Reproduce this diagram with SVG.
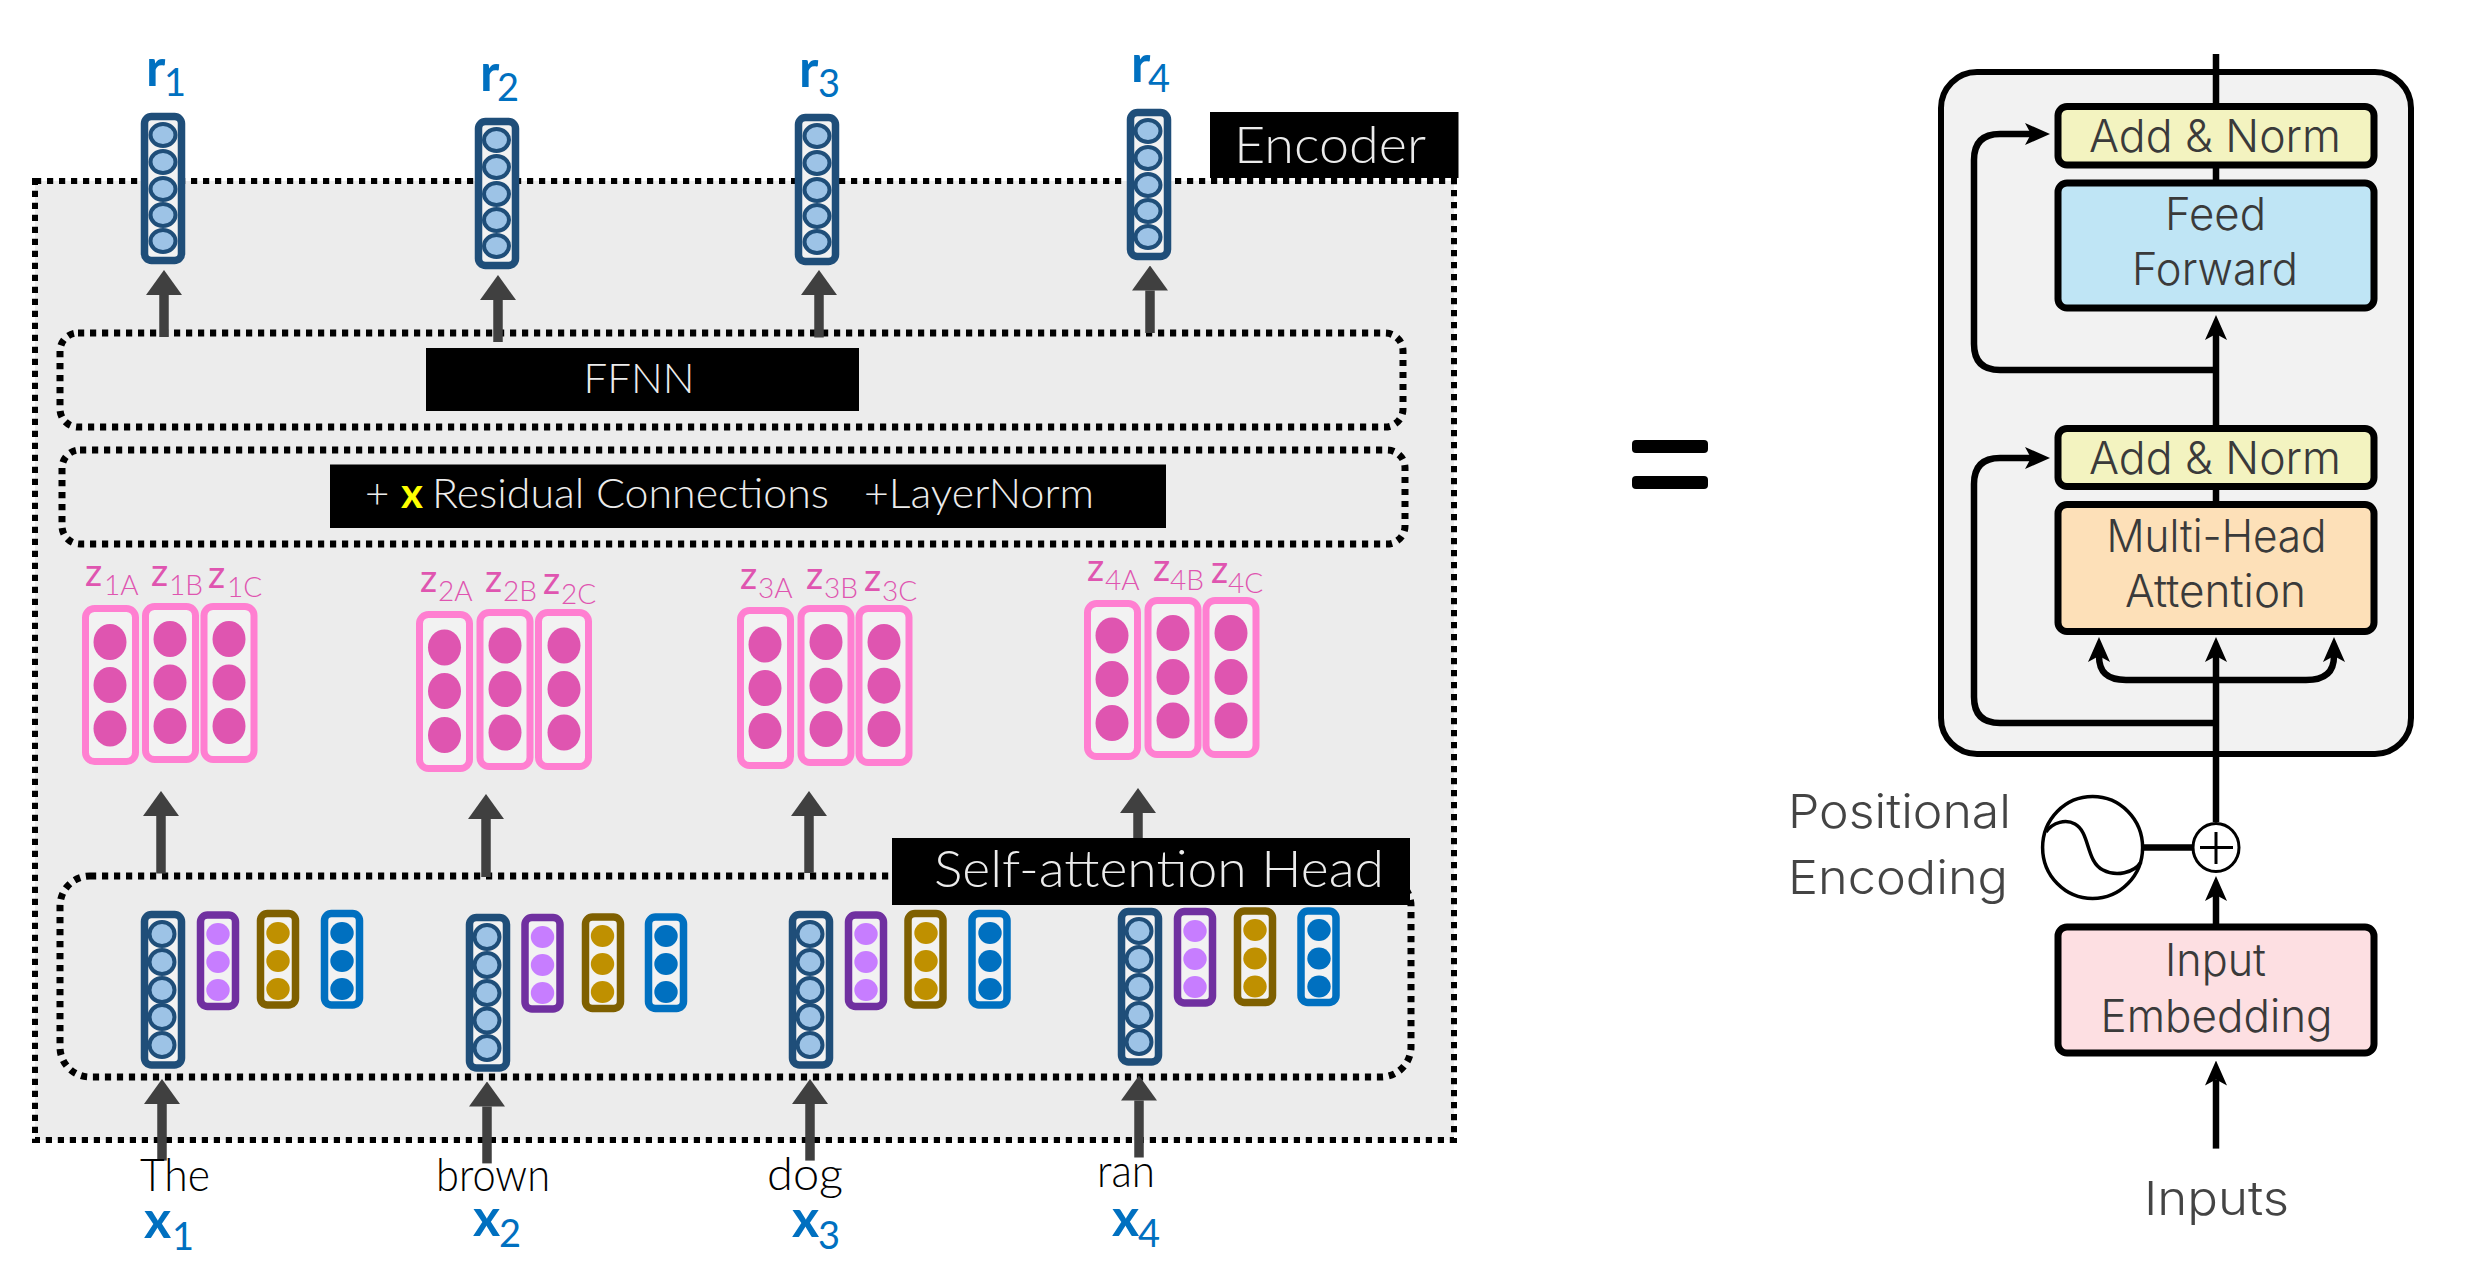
<svg xmlns="http://www.w3.org/2000/svg" width="2486" height="1268" viewBox="0 0 2486 1268">
<style>
text{font-family:"Lato","Open Sans","Liberation Sans",sans-serif;font-weight:300}
.dot{fill:none;stroke:#000;stroke-dasharray:6.2 5.8}
.tag{fill:#000}
.tagt{fill:#ececec;font-size:42px}
.w{fill:#000;font-size:45px}
.b{fill:#0070c0;font-size:52px;font-weight:700}
.s{fill:#0070c0;font-size:38px;font-weight:400}
.z{fill:#df55b0;font-size:38px;font-weight:400}
.zs{fill:#df55b0;font-size:28px;font-weight:300}
.ar{fill:none;stroke:#404040;stroke-width:9.5;marker-end:url(#dark)}
.bk{fill:none;stroke:#000;stroke-width:6.5}
.bka{fill:none;stroke:#000;stroke-width:6.5;marker-end:url(#stealth)}
.v{fill:#f2f2f2;stroke:#1f4e79;stroke-width:7.5}
.vc{fill:#9dc3e6;stroke:#1f4e79;stroke-width:4}
.p{fill:#f2f2f2;stroke:#ff7fd1;stroke-width:7}
.pc{fill:#df55b0}
.k1{fill:#f2f2f2;stroke:#7030a0;stroke-width:7.5}
.c1{fill:#c77dff}
.k2{fill:#f2f2f2;stroke:#7f6000;stroke-width:7.5}
.c2{fill:#bf9000}
.k3{fill:#f2f2f2;stroke:#0070c0;stroke-width:7.5}
.c3{fill:#0070c0}
.blk{stroke:#000;stroke-width:7}
.lt{font-family:"Inter","Liberation Sans",sans-serif;font-weight:300;fill:#3a3a3a;font-size:45px;text-anchor:middle}
.lts{font-family:"Inter","Liberation Sans",sans-serif;font-weight:300;fill:#444;font-size:47px}
</style>
<defs>
<marker id="dark" markerUnits="userSpaceOnUse" markerWidth="25" markerHeight="36" viewBox="0 0 25 36" refX="0" refY="18" orient="auto"><path d="M0 0L25 18L0 36z" fill="#404040"/></marker>
<marker id="stealth" markerUnits="userSpaceOnUse" markerWidth="25" markerHeight="24" viewBox="0 0 25 24" refX="6" refY="12" orient="auto"><path d="M0 1L25 12L0 23L6 12z" fill="#000"/></marker>
</defs>

<g id="containers">
<rect id="encoder-box" x="35" y="181" width="1419" height="959" class="dot" style="fill:#ececec;stroke-width:6"/>
<rect id="ffnn-box" x="60" y="333" width="1343" height="94" rx="18" class="dot" stroke-width="7"/>
<rect id="residual-box" x="62" y="450" width="1343" height="94" rx="18" class="dot" stroke-width="7"/>
<rect id="attention-box" x="60" y="876" width="1351" height="201" rx="30" class="dot" stroke-width="7"/>
<rect id="right-encoder" x="1941" y="72" width="470" height="682" rx="36" fill="#f2f2f2" stroke="#000" stroke-width="6"/>
</g>

<g id="connectors">
<path class="ar" d="M164 337V295"/><path class="ar" d="M498 342V300"/><path class="ar" d="M819 337.500V295"/><path class="ar" d="M1150 333V290.500"/>
<path class="ar" d="M161 873.500V816"/><path class="ar" d="M486 877V819"/><path class="ar" d="M809 873V816"/><path class="ar" d="M1138 840V813"/>
<path class="ar" d="M162 1160.600V1104"/><path class="ar" d="M487 1163.400V1106.500"/><path class="ar" d="M810 1160.600V1104"/><path class="ar" d="M1139 1157.500V1100.500"/>
<path class="bk" d="M2216 54V106M2216 165V183M2216 486V504M2144 847.500H2193"/>
<path class="bka" d="M2216 428V334"/>
<path class="bka" d="M2216 370H2000Q1974 370 1974 344V160Q1974 134 2000 134H2031"/>
<path class="bka" d="M2216 723H2000Q1974 723 1974 697V484Q1974 458 2000 458H2031"/>
<path class="bka" d="M2216 822V656"/>
<path class="bka" d="M2216 680H2126C2107 680 2099 672 2099 656"/>
<path class="bka" d="M2216 680H2306C2325 680 2334 672 2334 656"/>
<path class="bka" d="M2216 926V895"/>
<path class="bka" d="M2216 1148.600V1079.500"/>
</g>

<g id="r1"><rect class="v" x="144.500" y="116.500" width="37" height="144" rx="7"/><ellipse class="vc" cx="163" cy="135" rx="12.500" ry="11"/><ellipse class="vc" cx="163" cy="162" rx="12.500" ry="11"/><ellipse class="vc" cx="163" cy="189" rx="12.500" ry="11"/><ellipse class="vc" cx="163" cy="215" rx="12.500" ry="11"/><ellipse class="vc" cx="163" cy="241" rx="12.500" ry="11"/>
<text><tspan class="b" x="146" y="86">r</tspan><tspan class="s" x="164" y="96">1</tspan></text></g>
<g id="r2"><rect class="v" x="478.500" y="121.500" width="37" height="144" rx="7"/><ellipse class="vc" cx="496.500" cy="140" rx="12.500" ry="11"/><ellipse class="vc" cx="496.500" cy="167" rx="12.500" ry="11"/><ellipse class="vc" cx="496.500" cy="194" rx="12.500" ry="11"/><ellipse class="vc" cx="496.500" cy="220" rx="12.500" ry="11"/><ellipse class="vc" cx="496.500" cy="246" rx="12.500" ry="11"/>
<text><tspan class="b" x="480" y="91">r</tspan><tspan class="s" x="497" y="101">2</tspan></text></g>
<g id="r3"><rect class="v" x="798.500" y="117.500" width="37" height="144" rx="7"/><ellipse class="vc" cx="817" cy="136" rx="12.500" ry="11"/><ellipse class="vc" cx="817" cy="163" rx="12.500" ry="11"/><ellipse class="vc" cx="817" cy="190" rx="12.500" ry="11"/><ellipse class="vc" cx="817" cy="216" rx="12.500" ry="11"/><ellipse class="vc" cx="817" cy="242" rx="12.500" ry="11"/>
<text><tspan class="b" x="799" y="86.500">r</tspan><tspan class="s" x="818" y="97">3</tspan></text></g>
<g id="r4"><rect class="v" x="1130.500" y="112.500" width="37" height="144" rx="7"/><ellipse class="vc" cx="1148" cy="131" rx="12.500" ry="11"/><ellipse class="vc" cx="1148" cy="158" rx="12.500" ry="11"/><ellipse class="vc" cx="1148" cy="185" rx="12.500" ry="11"/><ellipse class="vc" cx="1148" cy="211" rx="12.500" ry="11"/><ellipse class="vc" cx="1148" cy="237" rx="12.500" ry="11"/>
<text><tspan class="b" x="1131" y="82">r</tspan><tspan class="s" x="1148" y="92">4</tspan></text></g>

<g id="encoder-label"><rect class="tag" x="1210" y="112" width="248.500" height="66"/><text class="tagt" x="1234" y="163" style="font-size:52px" textLength="192" lengthAdjust="spacingAndGlyphs">Encoder</text></g>
<g id="ffnn-label"><rect class="tag" x="426" y="348" width="433" height="63"/><text class="tagt" x="639" y="393" text-anchor="middle">FFNN</text></g>
<g id="residual-label"><rect class="tag" x="330" y="464.500" width="836" height="63.500"/><text class="tagt" y="507.500"><tspan x="365">+</tspan><tspan x="401" fill="#ffff00" style="font-weight:700">x</tspan></text><text class="tagt" x="432" y="507.500" textLength="397" lengthAdjust="spacingAndGlyphs">Residual Connections</text><text class="tagt" x="864" y="507.500" textLength="230" lengthAdjust="spacingAndGlyphs">+LayerNorm</text></g>

<g id="z1"><text><tspan class="z" x="85" y="586">z</tspan><tspan class="zs" x="104" y="595">1A</tspan></text><text><tspan class="z" x="151" y="586">z</tspan><tspan class="zs" x="169" y="595">1B</tspan></text><text><tspan class="z" x="208" y="588">z</tspan><tspan class="zs" x="227" y="597">1C</tspan></text>
<rect class="p" x="85.500" y="608.500" width="50" height="153" rx="9"/><rect class="p" x="145.500" y="606.500" width="50" height="153" rx="9"/><rect class="p" x="204" y="606.500" width="50" height="153" rx="9"/>
<ellipse class="pc" cx="110" cy="642" rx="16.500" ry="18"/><ellipse class="pc" cx="110" cy="685" rx="16.500" ry="18"/><ellipse class="pc" cx="110" cy="728.500" rx="16.500" ry="18"/>
<ellipse class="pc" cx="170" cy="639" rx="16.500" ry="18"/><ellipse class="pc" cx="170" cy="682.500" rx="16.500" ry="18"/><ellipse class="pc" cx="170" cy="726" rx="16.500" ry="18"/>
<ellipse class="pc" cx="229" cy="639" rx="16.500" ry="18"/><ellipse class="pc" cx="229" cy="682.500" rx="16.500" ry="18"/><ellipse class="pc" cx="229" cy="726" rx="16.500" ry="18"/></g>
<g id="z2"><text><tspan class="z" x="420" y="592">z</tspan><tspan class="zs" x="438" y="601">2A</tspan></text><text><tspan class="z" x="485" y="592">z</tspan><tspan class="zs" x="503" y="601">2B</tspan></text><text><tspan class="z" x="543" y="594">z</tspan><tspan class="zs" x="561" y="604">2C</tspan></text>
<rect class="p" x="419.500" y="614.500" width="50" height="154" rx="9"/><rect class="p" x="480" y="612.500" width="50" height="154" rx="9"/><rect class="p" x="538.500" y="612.500" width="50" height="154" rx="9"/>
<ellipse class="pc" cx="444.500" cy="647.500" rx="16.500" ry="18"/><ellipse class="pc" cx="444.500" cy="691" rx="16.500" ry="18"/><ellipse class="pc" cx="444.500" cy="735" rx="16.500" ry="18"/>
<ellipse class="pc" cx="505" cy="645.500" rx="16.500" ry="18"/><ellipse class="pc" cx="505" cy="689" rx="16.500" ry="18"/><ellipse class="pc" cx="505" cy="732.500" rx="16.500" ry="18"/>
<ellipse class="pc" cx="564" cy="645.500" rx="16.500" ry="18"/><ellipse class="pc" cx="564" cy="689" rx="16.500" ry="18"/><ellipse class="pc" cx="564" cy="732.500" rx="16.500" ry="18"/></g>
<g id="z3"><text><tspan class="z" x="740" y="589">z</tspan><tspan class="zs" x="758" y="598">3A</tspan></text><text><tspan class="z" x="806" y="589">z</tspan><tspan class="zs" x="824" y="598">3B</tspan></text><text><tspan class="z" x="864" y="591">z</tspan><tspan class="zs" x="882" y="601">3C</tspan></text>
<rect class="p" x="740.500" y="610.500" width="50" height="155" rx="9"/><rect class="p" x="801" y="608.500" width="50" height="154" rx="9"/><rect class="p" x="859" y="608.500" width="50" height="154" rx="9"/>
<ellipse class="pc" cx="765" cy="644.500" rx="16.500" ry="18"/><ellipse class="pc" cx="765" cy="688" rx="16.500" ry="18"/><ellipse class="pc" cx="765" cy="731" rx="16.500" ry="18"/>
<ellipse class="pc" cx="826" cy="642" rx="16.500" ry="18"/><ellipse class="pc" cx="826" cy="685.700" rx="16.500" ry="18"/><ellipse class="pc" cx="826" cy="729" rx="16.500" ry="18"/>
<ellipse class="pc" cx="884" cy="642" rx="16.500" ry="18"/><ellipse class="pc" cx="884" cy="685.700" rx="16.500" ry="18"/><ellipse class="pc" cx="884" cy="729" rx="16.500" ry="18"/></g>
<g id="z4"><text><tspan class="z" x="1087" y="581">z</tspan><tspan class="zs" x="1105" y="590">4A</tspan></text><text><tspan class="z" x="1153" y="581">z</tspan><tspan class="zs" x="1170" y="590">4B</tspan></text><text><tspan class="z" x="1211" y="583">z</tspan><tspan class="zs" x="1228" y="593">4C</tspan></text>
<rect class="p" x="1087.500" y="603.500" width="50" height="153" rx="9"/><rect class="p" x="1148" y="600.500" width="50" height="154" rx="9"/><rect class="p" x="1206" y="600.500" width="50" height="154" rx="9"/>
<ellipse class="pc" cx="1112" cy="635.500" rx="16.500" ry="18"/><ellipse class="pc" cx="1112" cy="679" rx="16.500" ry="18"/><ellipse class="pc" cx="1112" cy="723" rx="16.500" ry="18"/>
<ellipse class="pc" cx="1173" cy="633" rx="16.500" ry="18"/><ellipse class="pc" cx="1173" cy="677" rx="16.500" ry="18"/><ellipse class="pc" cx="1173" cy="720.500" rx="16.500" ry="18"/>
<ellipse class="pc" cx="1231" cy="633" rx="16.500" ry="18"/><ellipse class="pc" cx="1231" cy="677" rx="16.500" ry="18"/><ellipse class="pc" cx="1231" cy="720.500" rx="16.500" ry="18"/></g>

<g id="attention-label"><rect class="tag" x="892" y="838" width="518" height="67"/><text class="tagt" x="934" y="887" style="font-size:51px" textLength="450" lengthAdjust="spacingAndGlyphs">Self-attention Head</text></g>

<g id="x1"><rect class="v" x="144.500" y="914.500" width="37" height="150.500" rx="7"/><ellipse class="vc" cx="162" cy="934" rx="12.500" ry="12"/><ellipse class="vc" cx="162" cy="962" rx="12.500" ry="12"/><ellipse class="vc" cx="162" cy="990" rx="12.500" ry="12"/><ellipse class="vc" cx="162" cy="1017" rx="12.500" ry="12"/><ellipse class="vc" cx="162" cy="1045" rx="12.500" ry="12"/>
<rect class="k1" x="200.500" y="915" width="35" height="91.500" rx="7"/><ellipse class="c1" cx="218" cy="934" rx="11.700" ry="11"/><ellipse class="c1" cx="218" cy="962" rx="11.700" ry="11"/><ellipse class="c1" cx="218" cy="990" rx="11.700" ry="11"/>
<rect class="k2" x="260.500" y="913.500" width="35" height="91.500" rx="7"/><ellipse class="c2" cx="278" cy="933" rx="11.700" ry="11"/><ellipse class="c2" cx="278" cy="961" rx="11.700" ry="11"/><ellipse class="c2" cx="278" cy="989" rx="11.700" ry="11"/>
<rect class="k3" x="324.500" y="913.500" width="35" height="91.500" rx="7"/><ellipse class="c3" cx="342" cy="933" rx="11.700" ry="11"/><ellipse class="c3" cx="342" cy="961" rx="11.700" ry="11"/><ellipse class="c3" cx="342" cy="989" rx="11.700" ry="11"/>
<text class="w" x="140" y="1190.700" textLength="70" lengthAdjust="spacingAndGlyphs">The</text><text><tspan class="b" x="144" y="1237.500">x</tspan><tspan class="s" x="172" y="1249.500">1</tspan></text></g>
<g id="x2"><rect class="v" x="469.500" y="917.500" width="37" height="150.500" rx="7"/><ellipse class="vc" cx="487" cy="937" rx="12.500" ry="12"/><ellipse class="vc" cx="487" cy="965" rx="12.500" ry="12"/><ellipse class="vc" cx="487" cy="993" rx="12.500" ry="12"/><ellipse class="vc" cx="487" cy="1020.500" rx="12.500" ry="12"/><ellipse class="vc" cx="487" cy="1048" rx="12.500" ry="12"/>
<rect class="k1" x="525" y="917.500" width="35" height="91.500" rx="7"/><ellipse class="c1" cx="542.500" cy="937" rx="11.700" ry="11"/><ellipse class="c1" cx="542.500" cy="965" rx="11.700" ry="11"/><ellipse class="c1" cx="542.500" cy="993" rx="11.700" ry="11"/>
<rect class="k2" x="585.500" y="917" width="35" height="91.500" rx="7"/><ellipse class="c2" cx="602.500" cy="936" rx="11.700" ry="11"/><ellipse class="c2" cx="602.500" cy="964" rx="11.700" ry="11"/><ellipse class="c2" cx="602.500" cy="992" rx="11.700" ry="11"/>
<rect class="k3" x="648.500" y="917" width="35" height="91.500" rx="7"/><ellipse class="c3" cx="666" cy="936" rx="11.700" ry="11"/><ellipse class="c3" cx="666" cy="964" rx="11.700" ry="11"/><ellipse class="c3" cx="666" cy="992" rx="11.700" ry="11"/>
<text class="w" x="436" y="1190.700" textLength="114" lengthAdjust="spacingAndGlyphs">brown</text><text><tspan class="b" x="473" y="1236">x</tspan><tspan class="s" x="499" y="1247">2</tspan></text></g>
<g id="x3"><rect class="v" x="792.500" y="914.500" width="37" height="150.500" rx="7"/><ellipse class="vc" cx="810" cy="934" rx="12.500" ry="12"/><ellipse class="vc" cx="810" cy="962" rx="12.500" ry="12"/><ellipse class="vc" cx="810" cy="990" rx="12.500" ry="12"/><ellipse class="vc" cx="810" cy="1017" rx="12.500" ry="12"/><ellipse class="vc" cx="810" cy="1045" rx="12.500" ry="12"/>
<rect class="k1" x="848.500" y="915" width="35" height="91.500" rx="7"/><ellipse class="c1" cx="866" cy="934" rx="11.700" ry="11"/><ellipse class="c1" cx="866" cy="962" rx="11.700" ry="11"/><ellipse class="c1" cx="866" cy="990" rx="11.700" ry="11"/>
<rect class="k2" x="908" y="913.500" width="35" height="91.500" rx="7"/><ellipse class="c2" cx="926" cy="933" rx="11.700" ry="11"/><ellipse class="c2" cx="926" cy="961" rx="11.700" ry="11"/><ellipse class="c2" cx="926" cy="989" rx="11.700" ry="11"/>
<rect class="k3" x="972" y="913.500" width="35" height="91.500" rx="7"/><ellipse class="c3" cx="990" cy="933" rx="11.700" ry="11"/><ellipse class="c3" cx="990" cy="961" rx="11.700" ry="11"/><ellipse class="c3" cx="990" cy="989" rx="11.700" ry="11"/>
<text class="w" x="767" y="1190" textLength="76" lengthAdjust="spacingAndGlyphs">dog</text><text><tspan class="b" x="792" y="1237">x</tspan><tspan class="s" x="818" y="1249">3</tspan></text></g>
<g id="x4"><rect class="v" x="1121.500" y="911.500" width="37" height="150.500" rx="7"/><ellipse class="vc" cx="1139" cy="931" rx="12.500" ry="12"/><ellipse class="vc" cx="1139" cy="959" rx="12.500" ry="12"/><ellipse class="vc" cx="1139" cy="987" rx="12.500" ry="12"/><ellipse class="vc" cx="1139" cy="1015" rx="12.500" ry="12"/><ellipse class="vc" cx="1139" cy="1042" rx="12.500" ry="12"/>
<rect class="k1" x="1177.500" y="911.500" width="35" height="91.500" rx="7"/><ellipse class="c1" cx="1195" cy="931" rx="11.700" ry="11"/><ellipse class="c1" cx="1195" cy="959" rx="11.700" ry="11"/><ellipse class="c1" cx="1195" cy="987" rx="11.700" ry="11"/>
<rect class="k2" x="1237.500" y="911" width="35" height="91.500" rx="7"/><ellipse class="c2" cx="1255" cy="930" rx="11.700" ry="11"/><ellipse class="c2" cx="1255" cy="958.500" rx="11.700" ry="11"/><ellipse class="c2" cx="1255" cy="986.500" rx="11.700" ry="11"/>
<rect class="k3" x="1301" y="911" width="35" height="91.500" rx="7"/><ellipse class="c3" cx="1319" cy="930" rx="11.700" ry="11"/><ellipse class="c3" cx="1319" cy="958.500" rx="11.700" ry="11"/><ellipse class="c3" cx="1319" cy="986.500" rx="11.700" ry="11"/>
<text class="w" x="1097" y="1186.700" textLength="58" lengthAdjust="spacingAndGlyphs">ran</text><text><tspan class="b" x="1112" y="1236">x</tspan><tspan class="s" x="1138" y="1247">4</tspan></text></g>

<g id="equals"><rect x="1632" y="440" width="76" height="13" rx="4"/><rect x="1632" y="476" width="76" height="13" rx="4"/></g>

<g id="add-norm-top"><rect class="blk" x="2058" y="106.500" width="316" height="58.500" rx="9" fill="#f3f3c0"/><text class="lt" x="2215" y="152" textLength="252" lengthAdjust="spacingAndGlyphs">Add &amp; Norm</text></g>
<g id="feed-forward"><rect class="blk" x="2058" y="183" width="316" height="125" rx="9" fill="#bfe5f5"/><text class="lt" x="2215.500" y="230" textLength="101" lengthAdjust="spacingAndGlyphs">Feed</text><text class="lt" x="2215" y="285" textLength="166" lengthAdjust="spacingAndGlyphs">Forward</text></g>
<g id="add-norm-bottom"><rect class="blk" x="2058" y="428.500" width="316" height="58" rx="9" fill="#f3f3c0"/><text class="lt" x="2215" y="474" textLength="252" lengthAdjust="spacingAndGlyphs">Add &amp; Norm</text></g>
<g id="multi-head"><rect class="blk" x="2058" y="504.500" width="316" height="127" rx="9" fill="#fde0b8"/><text class="lt" x="2216.500" y="552" textLength="220" lengthAdjust="spacingAndGlyphs">Multi-Head</text><text class="lt" x="2215.500" y="607" textLength="181" lengthAdjust="spacingAndGlyphs">Attention</text></g>
<g id="input-embedding"><rect class="blk" x="2058" y="927" width="316" height="126" rx="9" fill="#fddfe2"/><text class="lt" x="2215.500" y="975.600" textLength="101" lengthAdjust="spacingAndGlyphs">Input</text><text class="lt" x="2216.500" y="1031.700" textLength="232" lengthAdjust="spacingAndGlyphs">Embedding</text></g>
<g id="positional-encoding"><ellipse cx="2092.600" cy="847.500" rx="50" ry="51" fill="#fff" stroke="#000" stroke-width="3.500"/><path d="M2046 832C2053 822 2066 819 2075 824C2090 832 2086 862 2103 870C2116 877 2134 873 2141 862" fill="none" stroke="#000" stroke-width="3.500"/>
<text class="lts" x="1788" y="828" textLength="223" lengthAdjust="spacingAndGlyphs">Positional</text><text class="lts" x="1788" y="893.500" textLength="220" lengthAdjust="spacingAndGlyphs">Encoding</text></g>
<g id="add-circle"><ellipse cx="2216" cy="847.500" rx="23" ry="24" fill="#fff" stroke="#000" stroke-width="3"/><path d="M2200 847.500H2233M2216 832V864" stroke="#000" stroke-width="3"/></g>
<g id="inputs"><text class="lts" x="2144" y="1214.700" textLength="145" lengthAdjust="spacingAndGlyphs">Inputs</text></g>
</svg>
